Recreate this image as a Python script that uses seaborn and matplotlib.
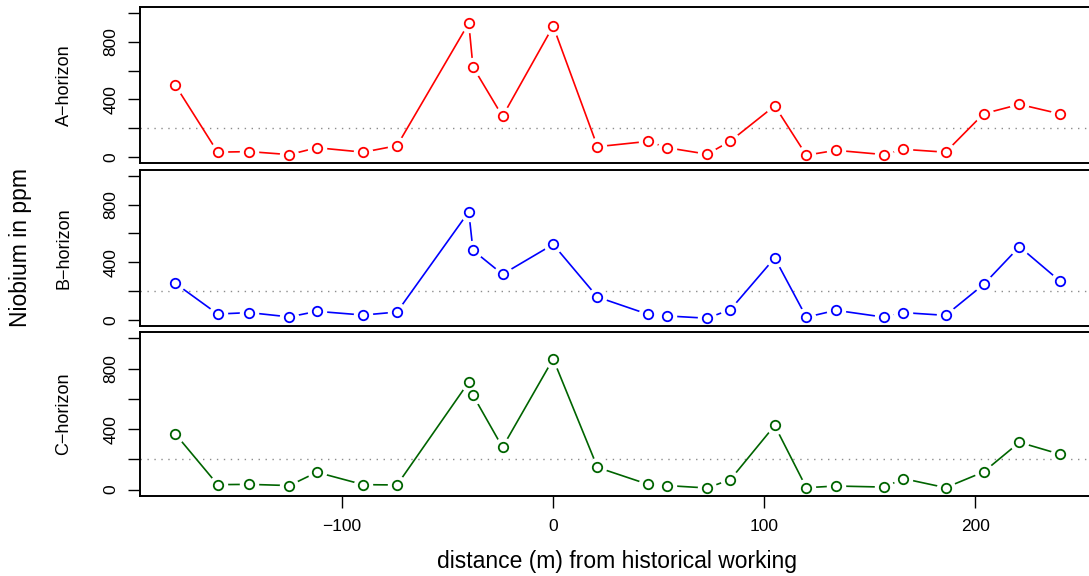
import numpy as np
import pandas as pd
import matplotlib
matplotlib.use("Agg")
import matplotlib.pyplot as plt
import seaborn as sns

# distance along the traverse (m)
distance = [-179, -159, -144, -125, -112, -90, -74, -40, -38, -24, 0, 21, 45, 54,
            73, 84, 105, 120, 134, 157, 166, 186, 204, 221, 240]

# Niobium (ppm) per soil horizon
a_horizon = [497, 35, 39, 18, 66, 35, 80, 929, 625, 283, 908, 73, 110, 66,
             21, 112, 356, 14, 48, 18, 55, 35, 301, 366, 301]
b_horizon = [253, 41, 51, 21, 60, 34, 55, 750, 483, 317, 524, 159, 39, 28,
             12, 72, 430, 19, 67, 19, 51, 32, 246, 508, 272]
c_horizon = [367, 33, 35, 27, 115, 33, 31, 711, 624, 280, 864, 147, 35, 27,
             11, 67, 424, 13, 24, 17, 73, 13, 117, 313, 235]

panel_names = ["A\u2212horizon", "B\u2212horizon", "C\u2212horizon"]
panel_colors = ["#ff0000", "#0000ff", "#006400"]
threshold = 200

df = pd.DataFrame({"distance": distance, "A": a_horizon, "B": b_horizon, "C": c_horizon})

sns.set_style("white")
plt.rcParams["font.family"] = ["Liberation Sans", "DejaVu Sans"]
plt.rcParams["text.color"] = "black"
plt.rcParams["xtick.color"] = "black"
plt.rcParams["ytick.color"] = "black"

fig = plt.figure(figsize=(10.89, 5.76), dpi=100)
left, width = 0.1286, 0.8769
boxes = [(0.717, 0.2708), (0.4345, 0.2704), (0.1394, 0.2837)]

for i, (col, name, color) in enumerate(zip(["A", "B", "C"], panel_names, panel_colors)):
    b, h = boxes[i]
    ax = fig.add_axes([left, b, width, h])
    ax.axhline(threshold, color="#8c8c8c", lw=1.0, ls=(0, (1, 4)), zorder=1)
    sns.lineplot(data=df, x="distance", y=col, color=color, lw=1.2, ax=ax,
                 sort=False, estimator=None, zorder=1.5)
    # white halo to leave gaps around points (R type="b")
    ax.plot(df["distance"], df[col], "o", ms=14, mfc="white", mec="none", zorder=2)
    ax.plot(df["distance"], df[col], "o", ms=6.8, mfc="none", mec=color, mew=1.3, zorder=3)

    ax.set_xlim(-195.8, 256.8)
    ax.set_ylim(-40, 1040)
    ax.set_yticks([0, 200, 400, 600, 800, 1000])
    ax.set_yticklabels(["0", "", "400", "", "800", ""])
    ax.tick_params(axis="y", direction="out", length=8.5, width=1.0, pad=7,
                   labelsize=12.5, labelrotation=90, left=True, colors="black")
    for lab in ax.get_yticklabels():
        lab.set_verticalalignment("center")
    ax.set_xlabel("")
    ax.set_ylabel("")
    if col == "C":
        ax.set_xticks([-100, 0, 100, 200])
        ax.tick_params(axis="x", direction="out", length=8.5, width=1.0, pad=8,
                       labelsize=12.5, bottom=True, colors="black")
    else:
        ax.set_xticks([])
    for sp in ax.spines.values():
        sp.set_color("black")
        sp.set_linewidth(1.4)
        sp.set_zorder(4)
    ax.text(-0.0796, 0.5, name, transform=ax.transAxes, rotation=90,
            ha="center", va="center", fontsize=13, color="black")

fig.text(0.019, 0.571, "Niobium in ppm", rotation=90, ha="center", va="center",
         fontsize=16.5, color="black")
fig.text(0.567, 0.026, "distance (m) from historical working", ha="center", va="center",
         fontsize=16.5, color="black")

fig.savefig("out.png", dpi=100)
